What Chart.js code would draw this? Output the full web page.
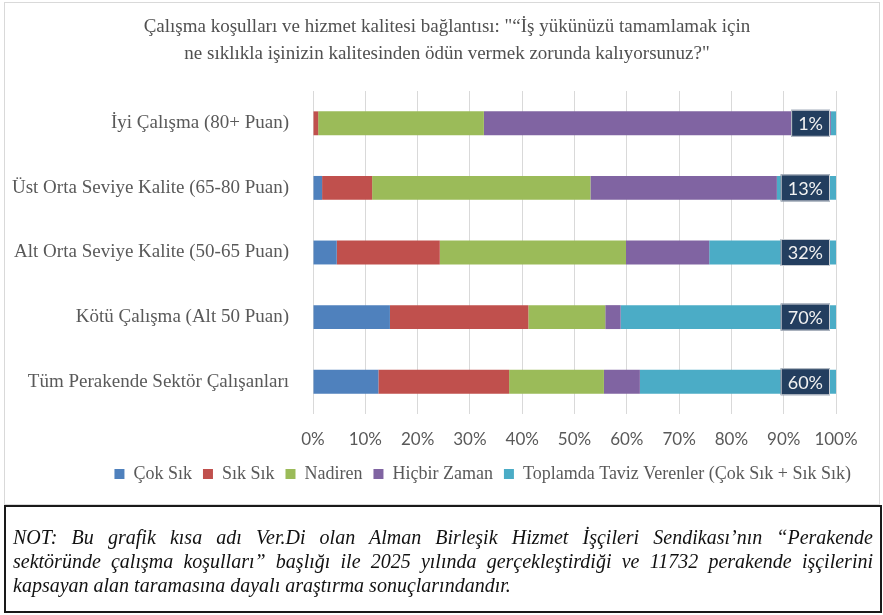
<!DOCTYPE html>
<html lang="tr">
<head>
<meta charset="utf-8">
<script src="https://cdn.jsdelivr.net/npm/chart.js@4.4.1/dist/chart.umd.min.js"></script>
<style>
  body { margin: 0; background: #fff; width: 883px; height: 615px; position: relative; overflow: hidden; }
  #wrap { position: absolute; left: 0; top: 0; width: 883px; height: 505px; }
  #frame { position: absolute; left: 4px; top: 2px; width: 874px; height: 501px; border: 1px solid #d9d9d9; pointer-events: none; }
  #note {
    position: absolute; left: 4px; top: 505px; width: 860px; height: 86px;
    border: 2px solid #1a1a1a; padding: 18px 7px 0 7px;
    font: italic 20px "Liberation Serif", serif; line-height: 24px;
    color: #111;
  }
  #note span { display: block; }
  #note .full { text-align: justify; text-align-last: justify; }
</style>
</head>
<body>
<div id="wrap"><canvas id="chart"></canvas></div>
<div id="frame"></div>
<div id="note"><span class="full">NOT: Bu grafik kısa adı Ver.Di olan Alman Birleşik Hizmet İşçileri Sendikası’nın “Perakende</span><span class="full">sektöründe çalışma koşulları” başlığı ile 2025 yılında gerçekleştirdiği ve 11732 perakende işçilerini</span><span>kapsayan alan taramasına dayalı araştırma sonuçlarındandır.</span></div>

<script>
// kategoriler ve ham degerler (yuzde)
const categories = [
  "İyi Çalışma (80+ Puan)",
  "Üst Orta Seviye Kalite (65-80 Puan)",
  "Alt Orta Seviye Kalite (50-65 Puan)",
  "Kötü Çalışma (Alt 50 Puan)",
  "Tüm Perakende Sektör Çalışanları"
];
const cokSik = [0, 2, 6, 25, 20];
const sikSik = [1, 11, 26, 45, 40];
const nadiren = [32, 48, 47, 25, 29];
const hicbirZaman = [67, 41, 21, 5, 11];
const tavizVerenler = [1, 13, 32, 70, 60];
const xTicks = [0, 10, 20, 30, 40, 50, 60, 70, 80, 90, 100];

const titleLines = [
  "Çalışma koşulları ve hizmet kalitesi bağlantısı: \"“İş yükünüzü tamamlamak için",
  "ne sıklıkla işinizin kalitesinden ödün vermek zorunda kalıyorsunuz?\""
];

// %100 yigilmis cubuk: her satiri toplamina gore olcekle
const raw = [cokSik, sikSik, nadiren, hicbirZaman, tavizVerenler];
const totals = categories.map((c, i) => raw.reduce((s, arr) => s + arr[i], 0));
const norm = arr => arr.map((v, i) => v / totals[i] * 100);

const textColor = "#595959";
const serif = "'Liberation Serif', serif";

const titlePlugin = {
  id: "customTitle",
  afterDraw(chart) {
    const ctx = chart.ctx;
    ctx.save();
    ctx.fillStyle = "#505050";
    ctx.font = "19px " + serif;
    ctx.textAlign = "center";
    ctx.textBaseline = "middle";
    ctx.fillText(titleLines[0], 447, 27);
    ctx.fillText(titleLines[1], 447, 54);
    ctx.restore();
  }
};

// sadece "Toplamda Taviz Verenler" icin koyu etiket kutusu
const labelPlugin = {
  id: "tavizLabels",
  afterDatasetsDraw(chart) {
    const ctx = chart.ctx;
    const meta = chart.getDatasetMeta(4);
    ctx.save();
    ctx.font = "18px Lato, sans-serif";
    ctx.textAlign = "center";
    ctx.textBaseline = "middle";
    meta.data.forEach((bar, i) => {
      const txt = tavizVerenler[i] + "%";
      const w = ctx.measureText(txt).width + 14;
      const h = 27;
      const right = bar.x - 6;
      ctx.fillStyle = "#233e5f";
      ctx.fillRect(right - w, bar.y - h / 2, w, h);
      ctx.strokeStyle = "#c8ccd2";
      ctx.lineWidth = 1;
      ctx.strokeRect(right - w + 0.5, bar.y - h / 2 + 0.5, w - 1, h - 1);
      ctx.fillStyle = "#f2f2f2";
      ctx.fillText(txt, right - w / 2, bar.y + 1);
    });
    ctx.restore();
  }
};

const legendShift = {
  id: "legendShift",
  afterLayout(chart) {
    chart.legend.right = 862;
    chart.legend.width = chart.legend.right - chart.legend.left;
  }
};

new Chart(document.getElementById("chart"), {
  type: "bar",
  data: {
    labels: categories,
    datasets: [
      { label: "Çok Sık", backgroundColor: "#4f81bd", data: norm(cokSik) },
      { label: "Sık Sık", backgroundColor: "#c0504d", data: norm(sikSik) },
      { label: "Nadiren", backgroundColor: "#9bbb59", data: norm(nadiren) },
      { label: "Hiçbir Zaman", backgroundColor: "#8064a2", data: norm(hicbirZaman) },
      { label: "Toplamda Taviz Verenler (Çok Sık + Sık Sık)", backgroundColor: "#4bacc6", data: norm(tavizVerenler) }
    ]
  },
  options: {
    indexAxis: "y",
    responsive: true,
    maintainAspectRatio: false,
    animation: false,
    barPercentage: 0.37,
    categoryPercentage: 1,
    layout: { padding: { left: 0, right: 47, top: 91, bottom: 12 } },
    scales: {
      x: {
        stacked: true,
        min: 0,
        max: 100,
        afterBuildTicks: axis => { axis.ticks = xTicks.map(v => ({ value: v })); },
        afterFit: axis => { axis.height = 40; },
        ticks: {
          callback: v => v + "%",
          color: textColor,
          font: { family: "Lato, sans-serif", size: 17 },
          padding: 15
        },
        grid: { color: "#d9d9d9", drawTicks: false },
        border: { display: false }
      },
      y: {
        stacked: true,
        afterFit: axis => { axis.width = 313; },
        ticks: {
          color: textColor,
          font: { family: serif, size: 19 },
          padding: 16
        },
        grid: { display: false },
        border: { display: false }
      }
    },
    plugins: {
      title: { display: false },
      tooltip: { enabled: false },
      legend: {
        position: "bottom",
        align: "end",
        labels: {
          color: textColor,
          font: { family: serif, size: 18 },
          boxWidth: 10,
          boxHeight: 10,
          padding: 11
        }
      }
    }
  },
  plugins: [titlePlugin, labelPlugin, legendShift]
});
</script>
</body>
</html>
